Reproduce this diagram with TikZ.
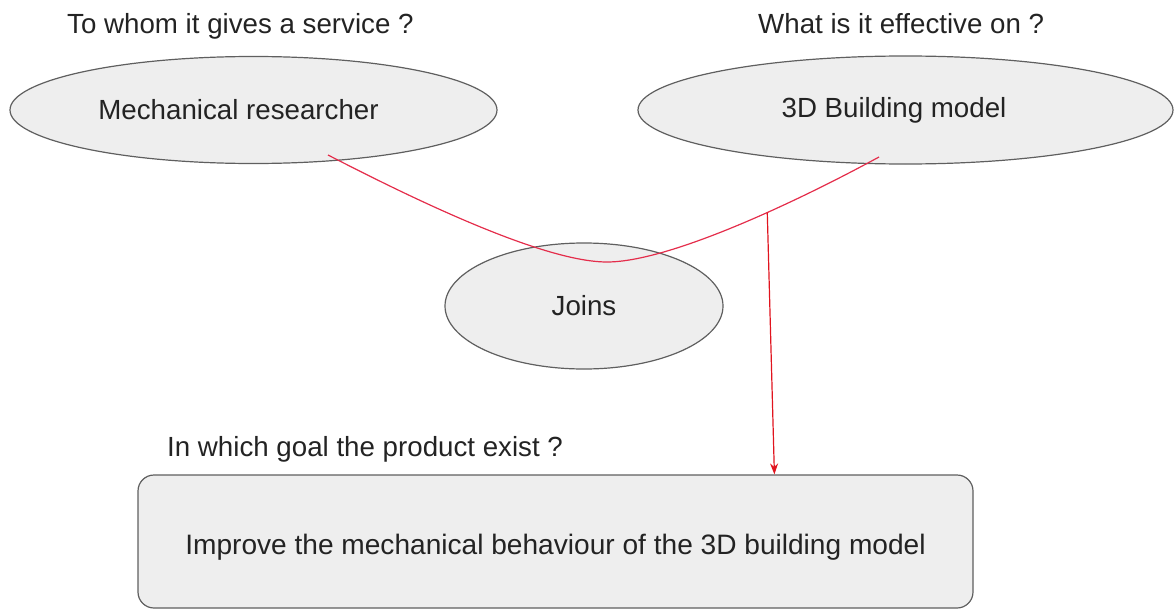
\documentclass[tikz,border=0pt]{standalone}
\usepackage{fontspec}
\setmainfont{Liberation Sans}
\usetikzlibrary{shapes.geometric,calc,arrows.meta}
\definecolor{fillg}{RGB}{238,238,238}
\definecolor{edge}{RGB}{95,95,95}
\definecolor{conn}{RGB}{228,45,75}
\definecolor{arr}{RGB}{225,20,30}
\definecolor{txt}{RGB}{35,35,35}
\begin{document}
\begin{tikzpicture}[x=1pt,y=-1pt,
  font=\fontsize{27.7}{33}\selectfont, text=txt,
  oval/.style={ellipse, draw=edge, fill=fillg, line width=1.2pt, inner sep=0pt},
  goalbox/.style={rectangle, rounded corners=16pt, draw=edge, fill=fillg, line width=1.2pt, inner sep=0pt},
  question/.style={anchor=base west, inner sep=0pt},
  link/.style={draw=conn, line width=1.2pt},
  flow/.style={draw=arr, line width=1.2pt, -{Stealth[length=11pt,width=8pt]}}]
\useasboundingbox (0,0) rectangle (1175,610);
\node[question] (q1) at (67,34) {To whom it gives a service ?};
\node[question] (q2) at (758,34) {What is it effective on ?};
\node[question] (q3) at (167,456) {In which goal the product exist ?};
\node[oval, minimum width=487pt, minimum height=107pt] (res) at (253.5,110) {Mechanical researcher\hspace*{30pt}};
\node[oval, minimum width=535pt, minimum height=108pt] (bld) at (905.5,110) {3D Building model\hspace*{23pt}};
\node[oval, minimum width=278pt, minimum height=126pt] (joins) at (584,306) {Joins};
\node[goalbox, minimum width=835pt, minimum height=133pt, text height=25pt, text depth=0pt,
  font=\fontsize{28.1}{33}\selectfont] (goal) at (555.5,541.5)
  {Improve the mechanical behaviour of the 3D building model};
\coordinate (dip) at (607,262);
\draw[link] ($(res.center)+(74.5,45)$) .. controls (400,192) and (540,262) .. (dip)
  .. controls (670,262) and (800,200) .. coordinate[pos=0.6] (br) ($(bld.center)+(-26.5,47)$);
\draw[flow] (br) -- ($(goal.north west)+(637,0)$);
\end{tikzpicture}
\end{document}
